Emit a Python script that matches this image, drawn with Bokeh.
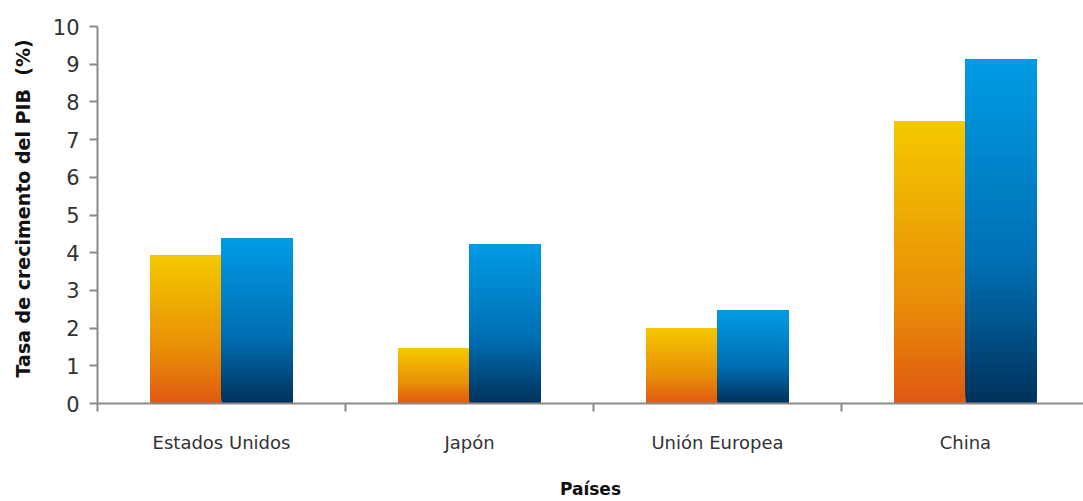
from bokeh.plotting import figure
from bokeh.models import Range1d, FixedTicker, LinearAxis
from bokeh.embed import file_html
from bokeh.resources import INLINE

# ---- data ----
countries = ["Estados Unidos", "Japón", "Unión Europea", "China"]
series_a = [3.92, 1.46, 2.0, 7.48]   # orange series
series_b = [4.38, 4.22, 2.46, 9.12]  # blue series
y_ticks = [0, 1, 2, 3, 4, 5, 6, 7, 8, 9, 10]

# ---- style ----
orange_stops = [(0.0, (224, 90, 18)), (0.35, (232, 140, 8)), (1.0, (244, 200, 0))]
blue_stops = [(0.0, (0, 50, 92)), (0.4, (0, 110, 178)), (1.0, (0, 155, 228))]
N = 60
bar_w = 0.288
axis_col = "#8a8a8a"
text_col = "#333333"


def interp(stops, t):
    for (t0, c0), (t1, c1) in zip(stops[:-1], stops[1:]):
        if t <= t1:
            f = (t - t0) / (t1 - t0) if t1 > t0 else 0
            return "#%02x%02x%02x" % tuple(int(round(a + (b - a) * f)) for a, b in zip(c0, c1))
    c = stops[-1][1]
    return "#%02x%02x%02x" % c


p = figure(width=1083, height=501, output_backend="svg", toolbar_location=None,
           x_range=Range1d(0, 3.976), y_range=Range1d(0, 10),
           min_border_left=97, min_border_right=0, min_border_top=26, min_border_bottom=60,
           x_axis_location=None, y_axis_location=None)
p.outline_line_color = None
p.grid.visible = False

for vals, stops, offset in ((series_a, orange_stops, -bar_w / 2), (series_b, blue_stops, bar_w / 2)):
    left, right, bottom, top, colors = [], [], [], [], []
    for i, v in enumerate(vals):
        cx = i + 0.5 + offset
        for k in range(N):
            left.append(cx - bar_w / 2)
            right.append(cx + bar_w / 2)
            bottom.append(v * k / N)
            top.append(v)
            colors.append(interp(stops, k / (N - 1)))
    p.quad(left=left, right=right, bottom=bottom, top=top, fill_color=colors, line_color=None)

# y axis
yax = LinearAxis(ticker=FixedTicker(ticks=y_ticks))
yax.axis_line_color = axis_col
yax.axis_line_width = 2
yax.major_tick_line_color = axis_col
yax.major_tick_line_width = 2
yax.major_tick_out = 8
yax.major_tick_in = 0
yax.minor_tick_line_color = None
yax.major_label_text_font = "DejaVu Sans"
yax.major_label_text_font_size = "21px"
yax.major_label_text_color = text_col
yax.major_label_standoff = 10
yax.axis_label = "\u00a0\u00a0Tasa de crecimento del PIB\u00a0\u00a0(%)"
yax.axis_label_text_font = "DejaVu Sans"
yax.axis_label_text_font_style = "bold"
yax.axis_label_text_font_size = "19px"
yax.axis_label_text_color = "#111111"
yax.axis_label_standoff = 16
p.add_layout(yax, "left")

# x axis
xax = LinearAxis(ticker=FixedTicker(ticks=[i + 0.5 for i in range(len(countries))],
                                    minor_ticks=list(range(len(countries) + 1))))
xax.major_label_overrides = {i + 0.5: c for i, c in enumerate(countries)}
xax.axis_line_color = axis_col
xax.axis_line_width = 2
xax.major_tick_line_color = None
xax.minor_tick_line_color = axis_col
xax.minor_tick_line_width = 2
xax.minor_tick_out = 8
xax.minor_tick_in = 0
xax.major_label_text_font = "DejaVu Sans"
xax.major_label_text_font_size = "18px"
xax.major_label_text_color = text_col
xax.major_label_standoff = 20
xax.axis_label = "Países"
xax.axis_label_text_font = "DejaVu Sans"
xax.axis_label_text_font_style = "bold"
xax.axis_label_text_font_size = "17px"
xax.axis_label_text_color = "#111111"
xax.axis_label_standoff = 23
p.add_layout(xax, "below")

open("out.html", "w").write(file_html(p, INLINE))
